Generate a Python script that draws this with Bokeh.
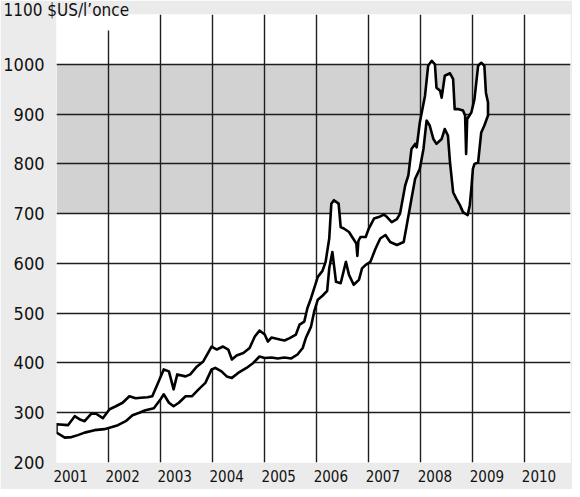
from bokeh.plotting import figure
from bokeh.models import FixedTicker, BoxAnnotation, Range1d
from bokeh.embed import file_html
from bokeh.resources import INLINE

# ---- data -------------------------------------------------------------
years = [2001, 2002, 2003, 2004, 2005, 2006, 2007, 2008, 2009, 2010]
year_labels = ["2001", "2002", "2003", "2004", "2005", "2006", "2007", "2008", "2009", "2010"]
price_ticks = [200, 300, 400, 500, 600, 700, 800, 900, 1000]
price_labels = ["200", "300", "400", "500", "600", "700", "800", "900", "1000"]
unit_label = "1100 $US/l\u2019once"
band_low = 700
band_high = 1000

# upper edge of the price ribbon (year, $US/oz)
upper_t = [2001.00, 2001.22, 2001.35, 2001.44, 2001.54, 2001.67, 2001.76, 2001.89, 2002.02, 2002.14,
           2002.27, 2002.40, 2002.52, 2002.62, 2002.75, 2002.84, 2002.94, 2003.06, 2003.16, 2003.25,
           2003.32, 2003.48, 2003.57, 2003.70, 2003.82, 2003.98, 2004.08, 2004.20, 2004.30, 2004.37,
           2004.46, 2004.59, 2004.71, 2004.81, 2004.90, 2005.00, 2005.06, 2005.13, 2005.29, 2005.38,
           2005.48, 2005.60, 2005.67, 2005.76, 2005.82, 2005.89, 2005.95, 2006.02, 2006.11, 2006.17,
           2006.24, 2006.28, 2006.33, 2006.42, 2006.46, 2006.52, 2006.62, 2006.68, 2006.76, 2006.78,
           2006.80, 2006.84, 2006.94, 2007.00, 2007.10, 2007.19, 2007.29, 2007.35, 2007.44, 2007.54,
           2007.60, 2007.70, 2007.76, 2007.82, 2007.89, 2007.92, 2007.98, 2008.08, 2008.14, 2008.21,
           2008.27, 2008.30, 2008.37, 2008.40, 2008.46, 2008.56, 2008.62, 2008.65, 2008.71, 2008.81,
           2008.85, 2008.87, 2008.89, 2008.97, 2009.03, 2009.10, 2009.16, 2009.22, 2009.25, 2009.29]
upper_p = [277, 275, 293, 287, 283, 298, 298, 289, 307, 313,
           320, 333, 329, 330, 331, 333, 357, 387, 383, 347,
           377, 373, 377, 393, 403, 433, 427, 433, 427, 407,
           415, 420, 430, 453, 465, 457, 443, 451, 447, 445,
           450, 457, 477, 483, 510, 530, 550, 573, 585, 603,
           650, 720, 727, 720, 673, 670, 663, 653, 640, 615,
           645, 653, 653, 670, 690, 693, 698, 693, 683, 689,
           700, 757, 777, 830, 840, 833, 883, 937, 997, 1007,
           1000, 953, 947, 933, 977, 982, 970, 910, 910, 907,
           897, 820, 890, 903, 930, 997, 1003, 997, 943, 923]

# lower edge of the price ribbon
lower_t = [2001.00, 2001.16, 2001.29, 2001.41, 2001.54, 2001.73, 2001.92, 2002.05, 2002.18, 2002.33,
           2002.46, 2002.59, 2002.71, 2002.87, 2003.00, 2003.06, 2003.16, 2003.25, 2003.35, 2003.48,
           2003.60, 2003.73, 2003.86, 2003.98, 2004.05, 2004.17, 2004.27, 2004.37, 2004.49, 2004.65,
           2004.78, 2004.90, 2005.00, 2005.13, 2005.25, 2005.38, 2005.51, 2005.63, 2005.73, 2005.79,
           2005.89, 2005.95, 2006.02, 2006.11, 2006.20, 2006.24, 2006.30, 2006.37, 2006.46, 2006.56,
           2006.62, 2006.71, 2006.81, 2006.87, 2006.94, 2007.03, 2007.13, 2007.22, 2007.32, 2007.41,
           2007.54, 2007.67, 2007.73, 2007.82, 2007.89, 2007.98, 2008.05, 2008.11, 2008.17, 2008.24,
           2008.30, 2008.40, 2008.46, 2008.52, 2008.56, 2008.62, 2008.68, 2008.75, 2008.81, 2008.90,
           2008.94, 2008.97, 2009.00, 2009.03, 2009.10, 2009.16, 2009.22, 2009.29]
lower_p = [260, 250, 251, 255, 260, 265, 267, 271, 275, 283,
           295, 300, 305, 309, 327, 337, 320, 313, 320, 333,
           333, 347, 360, 387, 390, 383, 373, 370, 380, 390,
           400, 413, 410, 411, 409, 411, 409, 417, 430, 450,
           473, 503, 527, 535, 545, 590, 623, 563, 560, 603,
           577, 557, 567, 590, 597, 603, 630, 650, 657, 643,
           637, 643, 677, 730, 770, 790, 830, 887, 877, 850,
           840, 850, 870, 857, 803, 743, 730, 717, 703, 697,
           717, 750, 790, 800, 803, 863, 877, 897]

# ---- styling ----------------------------------------------------------
FONT = "'DejaVu Sans Condensed', 'Liberation Sans Narrow', 'Roboto Condensed', 'Liberation Sans', sans-serif"
BG = "#ebebeb"
GRID = "#1e1e1e"

p = figure(width=572, height=489, output_backend="svg", toolbar_location=None,
           x_range=Range1d(2001.0, 2010.875), y_range=Range1d(200, 1100),
           min_border_left=52, min_border_right=2, min_border_top=14, min_border_bottom=27)
p.background_fill_color = "white"
p.border_fill_color = BG
p.outline_line_color = None

# unit label (the "1100" top tick carries the unit) as a left-aligned title
p.title.text = unit_label
p.title_location = "above"
p.title.align = "left"
p.title.vertical_align = "top"
p.title.offset = -53
p.title.standoff = -14
p.title.text_font = FONT
p.title.text_font_size = "17px"
p.title.text_font_style = "normal"
p.title.text_color = "#111111"

# gray band 700-1000, below the grid
p.add_layout(BoxAnnotation(bottom=band_low, top=band_high, fill_color="#d2d2d2",
                           fill_alpha=1.0, line_color=None, level="image"))

# grid
p.xgrid.ticker = FixedTicker(ticks=years[1:])
p.ygrid.ticker = FixedTicker(ticks=price_ticks[1:])
for g in (p.xgrid, p.ygrid):
    g.grid_line_color = GRID
    g.grid_line_width = 1.4

# axes
label_pos = [y + 0.27 for y in years]
p.xaxis.ticker = FixedTicker(ticks=label_pos)
p.xaxis.major_label_overrides = {pos: lab for pos, lab in zip(label_pos, year_labels)}
p.yaxis.ticker = FixedTicker(ticks=price_ticks)
p.yaxis.major_label_overrides = {t: lab for t, lab in zip(price_ticks, price_labels)}
for ax in (p.xaxis, p.yaxis):
    ax.axis_line_color = None
    ax.major_tick_line_color = None
    ax.minor_tick_line_color = None
    ax.major_tick_out = 0
    ax.major_tick_in = 0
    ax.major_label_text_font = FONT
    ax.major_label_text_color = "#111111"
p.xaxis.major_label_text_font_size = "15px"
p.xaxis.major_label_standoff = 7
p.yaxis.major_label_text_font_size = "18px"
p.yaxis.major_label_standoff = 12

# white patch hiding top of the 2002 grid line under the unit label
p.add_layout(BoxAnnotation(left=2001.0, right=2002.35, bottom=1068, top=1100,
                           fill_color="white", fill_alpha=1.0, line_color=None))

# price ribbon
xs = upper_t + lower_t[::-1]
ys = upper_p + lower_p[::-1]
p.patch(xs, ys, fill_color="white", line_color="black", line_width=2.6, line_join="round")

open("out.html", "w").write(file_html(p, INLINE))
